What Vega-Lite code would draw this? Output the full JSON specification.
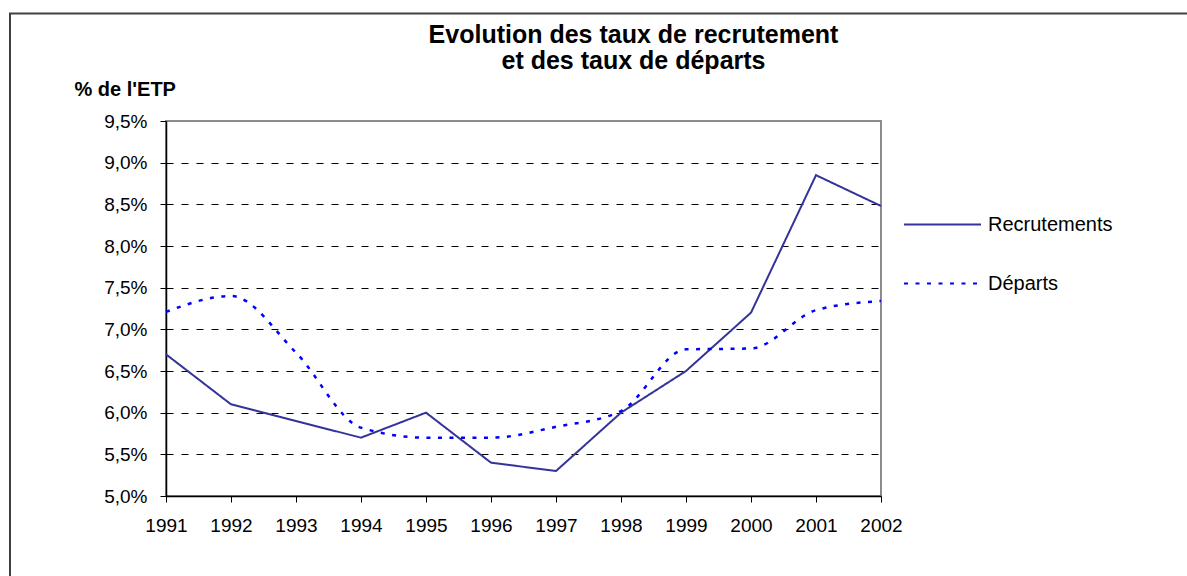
{
  "$schema": "https://vega.github.io/schema/vega-lite/v6.json",
  "autosize": "none",
  "width": 715,
  "height": 375,
  "padding": {"left": 166, "top": 121, "right": 306, "bottom": 80},
  "background": "white",
  "config": {
    "font": "Liberation Sans",
    "view": {"stroke": "#8c8c8c", "strokeWidth": 2},
    "axis": {"labelFont": "Liberation Sans", "titleFont": "Liberation Sans", "labelColor": "black", "titleColor": "black", "domainColor": "black", "tickColor": "black"}
  },
  "title": {
    "text": ["Evolution des taux de recrutement", "et des taux de départs"],
    "font": "Liberation Sans",
    "fontSize": 25,
    "fontWeight": "bold",
    "color": "black",
    "anchor": "middle",
    "frame": "group",
    "dx": 110,
    "dy": 66,
    "lineHeight": 26,
    "offset": 5
  },
  "data": {
    "values": [
      {"year": 1991, "series": "Recrutements", "rate": 6.7},
      {"year": 1992, "series": "Recrutements", "rate": 6.1},
      {"year": 1993, "series": "Recrutements", "rate": 5.9},
      {"year": 1994, "series": "Recrutements", "rate": 5.7},
      {"year": 1995, "series": "Recrutements", "rate": 6.0},
      {"year": 1996, "series": "Recrutements", "rate": 5.4},
      {"year": 1997, "series": "Recrutements", "rate": 5.3},
      {"year": 1998, "series": "Recrutements", "rate": 6.0},
      {"year": 1999, "series": "Recrutements", "rate": 6.5},
      {"year": 2000, "series": "Recrutements", "rate": 7.2},
      {"year": 2001, "series": "Recrutements", "rate": 8.85},
      {"year": 2002, "series": "Recrutements", "rate": 8.48},
      {"year": 1991, "series": "Départs", "rate": 7.21},
      {"year": 1992, "series": "Départs", "rate": 7.4},
      {"year": 1993, "series": "Départs", "rate": 6.72},
      {"year": 1994, "series": "Départs", "rate": 5.82},
      {"year": 1995, "series": "Départs", "rate": 5.7},
      {"year": 1996, "series": "Départs", "rate": 5.7},
      {"year": 1997, "series": "Départs", "rate": 5.83},
      {"year": 1998, "series": "Départs", "rate": 6.02},
      {"year": 1999, "series": "Départs", "rate": 6.76},
      {"year": 2000, "series": "Départs", "rate": 6.77},
      {"year": 2001, "series": "Départs", "rate": 7.23},
      {"year": 2002, "series": "Départs", "rate": 7.34}
    ]
  },
  "layer": [
    {
      "data": {"values": [{"frame": "outer"}]},
      "mark": {"type": "rect", "fill": "white", "fillOpacity": 0, "stroke": "#404040", "strokeWidth": 2, "clip": false},
      "encoding": {
        "x": {"datum": 1988.6, "type": "quantitative", "scale": {"domain": [1991, 2002], "nice": false, "zero": false}},
        "x2": {"datum": 2010},
        "y": {"datum": 10.79, "type": "quantitative", "scale": {"domain": [5, 9.5], "nice": false, "zero": false}},
        "y2": {"datum": 3}
      }
    },
    {
      "transform": [{"filter": "datum.series === 'Recrutements'"}],
      "mark": {"type": "line", "strokeWidth": 2, "clip": false},
      "encoding": {
        "x": {
          "field": "year",
          "type": "quantitative",
          "scale": {"domain": [1991, 2002], "nice": false, "zero": false},
          "axis": {
            "title": null,
            "values": [1991, 1992, 1993, 1994, 1995, 1996, 1997, 1998, 1999, 2000, 2001, 2002],
            "format": "d",
            "grid": false,
            "labelFontSize": 19,
            "labelPadding": 14,
            "tickSize": 6,
            "domainWidth": 1.5,
            "labelFlush": false,
            "labelOverlap": false
          }
        },
        "y": {
          "field": "rate",
          "type": "quantitative",
          "scale": {"domain": [5, 9.5], "nice": false, "zero": false},
          "axis": {
            "title": "% de l'ETP",
            "titleAngle": 0,
            "titleX": -92,
            "titleY": -26,
            "titleAlign": "left",
            "titleBaseline": "alphabetic",
            "titleFontSize": 20,
            "titleFontWeight": "bold",
            "values": [5, 5.5, 6, 6.5, 7, 7.5, 8, 8.5, 9, 9.5],
            "labelExpr": "replace(format(datum.value, '.1f'), '.', ',') + '%'",
            "labelFontSize": 19,
            "labelPadding": 13,
            "tickSize": 6,
            "domainWidth": 1.5,
            "grid": true,
            "gridColor": "black",
            "gridDash": [7, 8],
            "gridWidth": 1,
            "gridOpacity": {"condition": {"test": "datum.value >= 9.5 || datum.value <= 5", "value": 0}, "value": 1},
            "labelFlush": false,
            "labelOverlap": false
          }
        },
        "color": {
          "field": "series", "type": "nominal",
          "scale": {"domain": ["Recrutements", "Départs"], "range": ["#333399", "#0000ff"]},
          "legend": {
            "title": null,
            "orient": "none",
            "legendX": 737,
            "legendY": 64,
            "symbolType": "stroke",
            "symbolSize": 5929,
            "symbolStrokeWidth": 2,
            "labelFontSize": 20,
            "labelFont": "Liberation Sans",
            "labelColor": "black",
            "labelOffset": 6,
            "rowPadding": 9
          }
        },
        "strokeDash": {
          "field": "series", "type": "nominal",
          "scale": {"domain": ["Recrutements", "Départs"], "range": [[1, 0], [4, 7.5]]},
          "legend": {
            "title": null,
            "orient": "none",
            "legendX": 737,
            "legendY": 64,
            "symbolType": "stroke",
            "symbolSize": 5929,
            "symbolStrokeWidth": 2,
            "labelFontSize": 20,
            "labelFont": "Liberation Sans",
            "labelColor": "black",
            "labelOffset": 6,
            "rowPadding": 9
          }
        }
      }
    },
    {
      "transform": [{"filter": "datum.series === 'Départs'"}],
      "mark": {"type": "line", "strokeWidth": 2.5, "interpolate": "monotone", "clip": false},
      "encoding": {
        "x": {"field": "year", "type": "quantitative"},
        "y": {"field": "rate", "type": "quantitative"},
        "color": {"field": "series", "type": "nominal"},
        "strokeDash": {"field": "series", "type": "nominal"}
      }
    }
  ]
}
